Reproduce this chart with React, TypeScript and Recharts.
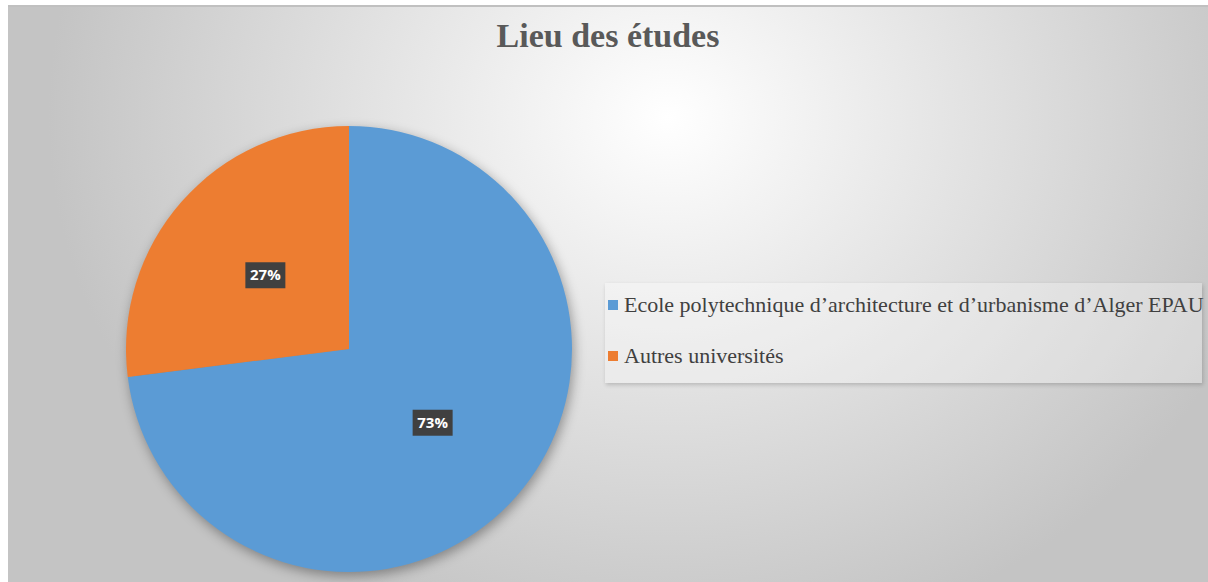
import { PieChart, Pie, Cell, Legend } from "recharts";

const categories = [
  "Ecole polytechnique d’architecture et d’urbanisme d’Alger EPAU",
  "Autres universités",
];
const shares = [73, 27];
const colors = ["#5b9bd5", "#ed7d31"];

const data = categories.map((name, i) => ({ name, value: shares[i] }));

const RADIAN = Math.PI / 180;

function PercentLabel(props: any) {
  const { cx, cy, midAngle, outerRadius, value } = props;
  const r = outerRadius * 0.5;
  const x = cx + r * Math.cos(-midAngle * RADIAN);
  const y = cy + r * Math.sin(-midAngle * RADIAN);
  return (
    <g>
      <rect x={x - 20} y={y - 13} width={40} height={26} fill="#404040" />
      <text
        x={x}
        y={y + 1}
        fill="#ffffff"
        textAnchor="middle"
        dominantBaseline="middle"
        fontFamily="'Open Sans', sans-serif"
        fontWeight="bold"
        fontSize={15}
      >
        {value}%
      </text>
    </g>
  );
}

function LegendBox({ payload }: any) {
  // keep legend in the same order as the categories
  const items = [...(payload || [])].sort(
    (a: any, b: any) => categories.indexOf(a.value) - categories.indexOf(b.value)
  );
  return (
    <div
      style={{
        width: 597,
        height: 100,
        background: "rgba(255,255,255,0.3)",
        boxShadow: "1px 2px 4px rgba(0,0,0,0.18)",
        fontFamily: "'Liberation Serif', serif",
        fontSize: 22,
        color: "#404040",
        position: "relative",
      }}
    >
      {items.map((item: any, i: number) => (
        <div
          key={item.value}
          style={{
            position: "absolute",
            left: 3,
            top: 9 + i * 51,
            display: "flex",
            alignItems: "center",
            whiteSpace: "nowrap",
          }}
        >
          <span
            style={{
              display: "inline-block",
              width: 10,
              height: 10,
              background: item.color,
              marginRight: 6,
            }}
          />
          {item.value}
        </div>
      ))}
    </div>
  );
}

export default function App() {
  return (
    <div style={{ position: "relative", width: 1208, height: 582, background: "#ffffff", overflow: "hidden" }}>
      <style>{"body{margin:0}.recharts-pie{filter:drop-shadow(2px 4px 6px rgba(0,0,0,0.35))}"}</style>
      <div
        style={{
          position: "absolute",
          left: 8,
          top: 5,
          width: 1200,
          height: 577,
          borderTop: "2px solid #c0c0c0",
          boxSizing: "border-box",
          background:
            "radial-gradient(ellipse 620px 540px at 660px 110px, #ffffff 0%, #c4c4c4 100%)",
        }}
      />
      <div
        style={{
          position: "absolute",
          left: 8,
          top: 17,
          width: 1200,
          textAlign: "center",
          fontFamily: "'Liberation Serif', serif",
          fontWeight: "bold",
          fontSize: 34,
          color: "#595959",
        }}
      >
        Lieu des études
      </div>
      <div style={{ position: "absolute", left: 8, top: 5 }}>
        <PieChart width={1200} height={577}>
          <Pie
            data={data}
            dataKey="value"
            nameKey="name"
            cx={336}
            cy={339}
            outerRadius={223}
            startAngle={90}
            endAngle={-270}
            stroke="none"
            label={PercentLabel}
            labelLine={false}
            isAnimationActive={false}
          >
            {data.map((d, i) => (
              <Cell key={d.name} fill={colors[i]} />
            ))}
          </Pie>
          <Legend
            layout="vertical"
            content={<LegendBox />}
            wrapperStyle={{ position: "absolute", left: 597, top: 278, width: 597, height: 100 }}
          />
        </PieChart>
      </div>
    </div>
  );
}
